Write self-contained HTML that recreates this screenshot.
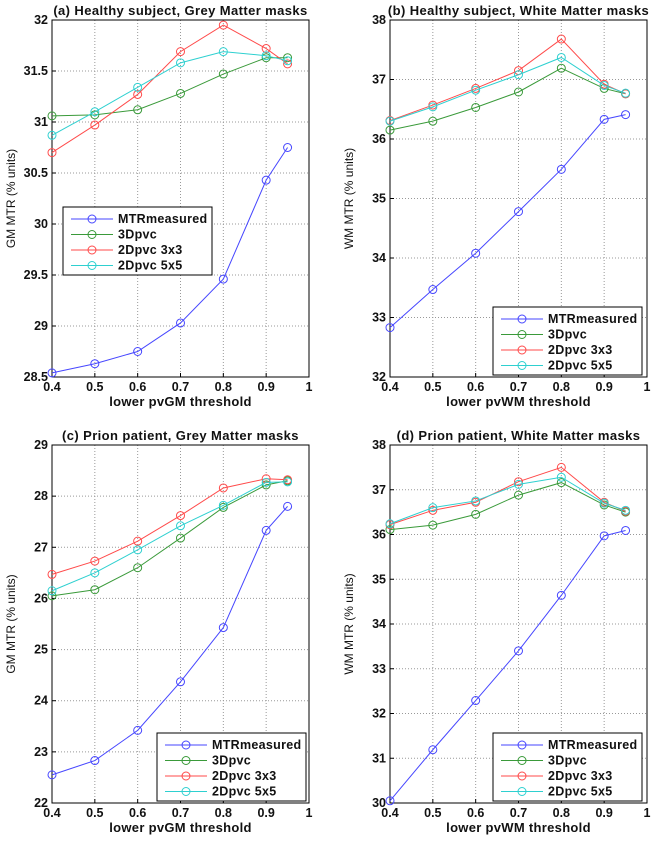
<!DOCTYPE html>
<html><head><meta charset="utf-8"><style>
body{margin:0;background:#fff;width:664px;height:840px;overflow:hidden}
svg{font-family:"Liberation Sans",sans-serif}
</style></head><body>
<svg id="chart" width="664" height="840"></svg>
<script>
const xVals=[0.4,0.5,0.6,0.7,0.8,0.9,0.95];
const seriesNames=["MTRmeasured","3Dpvc","2Dpvc 3x3","2Dpvc 5x5"];
const xTicks=[0.4,0.5,0.6,0.7,0.8,0.9,1];
const aMTR=[28.54,28.63,28.75,29.03,29.46,30.43,30.75];
const a3D=[31.06,31.07,31.12,31.28,31.47,31.63,31.63];
const a3x3=[30.70,30.97,31.27,31.69,31.95,31.72,31.57];
const a5x5=[30.87,31.10,31.34,31.58,31.69,31.65,31.60];
const aTicks=[28.5,29,29.5,30,30.5,31,31.5,32];
const bMTR=[32.83,33.47,34.08,34.78,35.49,36.33,36.41];
const b3D=[36.15,36.30,36.53,36.79,37.19,36.85,36.76];
const b3x3=[36.31,36.57,36.85,37.15,37.68,36.92,36.76];
const b5x5=[36.30,36.54,36.82,37.08,37.37,36.90,36.77];
const bTicks=[32,33,34,35,36,37,38];
const cMTR=[22.55,22.83,23.42,24.37,25.43,27.33,27.80];
const c3D=[26.05,26.17,26.60,27.18,27.78,28.22,28.30];
const c3x3=[26.47,26.73,27.12,27.62,28.16,28.34,28.32];
const c5x5=[26.15,26.50,26.95,27.42,27.82,28.27,28.28];
const cTicks=[22,23,24,25,26,27,28,29];
const dMTR=[30.05,31.19,32.29,33.40,34.64,35.97,36.09];
const d3D=[36.11,36.21,36.45,36.88,37.16,36.66,36.50];
const d3x3=[36.22,36.54,36.72,37.18,37.50,36.72,36.52];
const d5x5=[36.24,36.60,36.75,37.12,37.28,36.70,36.54];
const dTicks=[30,31,32,33,34,35,36,37,38];

const colors=["#4646ff","#3a9a3a","#ff4a4a","#2ed0d0"];
const NS="http://www.w3.org/2000/svg";
const svg=document.getElementById('chart');
function mk(tag,attrs,parent){const e=document.createElementNS(NS,tag);for(const k in attrs)e.setAttribute(k,attrs[k]);(parent||svg).appendChild(e);return e;}

function panel(id,L,T,R,B,series,yTicks,title,xlab,ylab,legX,legY){
  const g=mk('g',{});
  
  
  const y0=yTicks[0],y1=yTicks[yTicks.length-1];
  const sx=v=>L+(v-0.4)/(1-0.4)*(R-L);
  const sy=v=>B-(v-y0)/(y1-y0)*(B-T);
  xTicks.forEach(t=>{
    if(t>0.4&&t<1){const l=mk('line',{x1:sx(t),x2:sx(t),y1:T,y2:B,stroke:'#999','stroke-dasharray':'1,2'},g);}
    const tx=mk('text',{x:sx(t),y:B+14,'text-anchor':'middle','font-size':12.5,'font-weight':'bold',fill:'#111'},g);tx.textContent=String(t);
    
    mk('line',{x1:sx(t),x2:sx(t),y1:B,y2:B-4,stroke:'#000'},g);
  });
  yTicks.forEach(t=>{
    if(t>y0&&t<y1){const l=mk('line',{x1:L,x2:R,y1:sy(t),y2:sy(t),stroke:'#999','stroke-dasharray':'1,2'},g);}
    const tx=mk('text',{x:L-4,y:sy(t)+4,'text-anchor':'end','font-size':12.5,'font-weight':'bold',fill:'#111'},g);tx.textContent=String(t);
    
    mk('line',{x1:L,x2:L+4,y1:sy(t),y2:sy(t),stroke:'#000'},g);
  });
  const box=mk('rect',{x:L,y:T,width:R-L,height:B-T,fill:'none',stroke:'#000'},g);
  
  series.forEach((s,i)=>{
    const pl=mk('polyline',{points:s.map((v,j)=>sx(xVals[j])+','+sy(v)).join(' '),fill:'none',stroke:colors[i],'stroke-width':1},g);
    
    s.forEach((v,j)=>{const c=mk('circle',{cx:sx(xVals[j]),cy:sy(v),r:4,fill:'none',stroke:colors[i]},g);
      });
  });
  const tt=mk('text',{x:(L+R)/2,y:T-5,'text-anchor':'middle','font-size':13,'font-weight':'bold','letter-spacing':'0.4',fill:'#111'},g);tt.textContent=title;
  
  const xl=mk('text',{x:(L+R)/2,y:B+29,'text-anchor':'middle','font-size':13,'font-weight':'bold','letter-spacing':'0.3',fill:'#111'},g);xl.textContent=xlab;
  
  const yx=L-37,yy=(T+B)/2;
  const yl=mk('text',{x:yx,y:yy,'text-anchor':'middle','font-size':12,fill:'#111',transform:`rotate(-90 ${yx} ${yy})`},g);yl.textContent=ylab;
  
  const lg=mk('g',{},g);
  
  mk('rect',{x:legX,y:legY,width:149,height:68,fill:'#fff',stroke:'#000'},lg);
  seriesNames.forEach((n,i)=>{
    const yy2=legY+12+i*15.5;
    mk('line',{x1:legX+8,x2:legX+50,y1:yy2,y2:yy2,stroke:colors[i]},lg);
    mk('circle',{cx:legX+29,cy:yy2,r:4,fill:'none',stroke:colors[i]},lg);
    const t=mk('text',{x:legX+55,y:yy2+4,'font-size':12.5,'font-weight':'bold','letter-spacing':'0.3',fill:'#111'},lg);t.textContent=n;
    
  });
}
panel('panel-a',52,20,309,377,[aMTR,a3D,a3x3,a5x5],aTicks,'(a) Healthy subject, Grey Matter masks','lower pvGM threshold','GM MTR (% units)',63,207);
panel('panel-b',390,20,647,377,[bMTR,b3D,b3x3,b5x5],bTicks,'(b) Healthy subject, White Matter masks','lower pvWM threshold','WM MTR (% units)',493,307);
panel('panel-c',52,445,309,803,[cMTR,c3D,c3x3,c5x5],cTicks,'(c) Prion patient, Grey Matter masks','lower pvGM threshold','GM MTR (% units)',157,733);
panel('panel-d',390,445,647,803,[dMTR,d3D,d3x3,d5x5],dTicks,'(d) Prion patient, White Matter masks','lower pvWM threshold','WM MTR (% units)',493,733);
</script>
</body></html>
